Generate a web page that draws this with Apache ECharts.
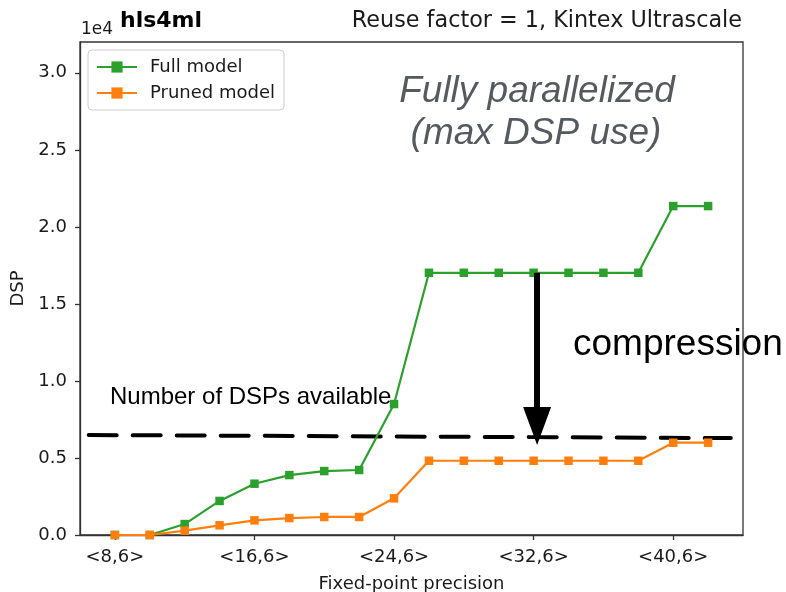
<!DOCTYPE html>
<html>
<head>
<meta charset="utf-8">
<script src="https://cdn.jsdelivr.net/npm/echarts@6/dist/echarts.min.js"></script>
<style>
  html, body { margin: 0; padding: 0; background: #fff; }
  #chart { width: 786px; height: 592px; }
</style>
</head>
<body>
<div id="chart"></div>
<script>
// ---- data ----
const precision = [8, 10, 12, 14, 16, 18, 20, 22, 24, 26, 28, 30, 32, 34, 36, 38, 40, 42];
const fullModel = [0, 0, 710, 2210, 3330, 3890, 4150, 4220, 8500, 17020, 17020, 17020, 17020, 17020, 17020, 17020, 21350, 21350];
const prunedModel = [0, 0, 280, 630, 950, 1100, 1170, 1170, 2380, 4820, 4820, 4820, 4820, 4820, 4820, 4820, 5990, 5990];
const dspAvailableX = [6.5, 43.3];
const dspAvailableY = [6490, 6290];
const arrowX = [32.2, 32.2];
const arrowY = [17020, 7070];
const xTickValues = [8, 16, 24, 32, 40];
const xTickLabels = ['<8,6>', '<16,6>', '<24,6>', '<32,6>', '<40,6>'];
const yTickValues = [0, 5000, 10000, 15000, 20000, 25000, 30000];
const yTickLabels = ['0.0', '0.5', '1.0', '1.5', '2.0', '2.5', '3.0'];
const seriesNames = ['Full model', 'Pruned model'];

const chart = echarts.init(document.getElementById('chart'), null, { renderer: 'canvas' });
const mpl = 'DejaVu Sans';

const zip = (xs, ys) => xs.map((x, i) => [x, ys[i]]);

const option = {
  animation: false,
  backgroundColor: '#ffffff',
  grid: {
    left: 80, right: 43, top: 42, bottom: 57,
    containLabel: false, outerBoundsMode: 'none',
    show: true, borderColor: '#333', borderWidth: 1.3, backgroundColor: 'transparent'
  },
  xAxis: {
    type: 'value', min: 6, max: 44,
    name: 'Fixed-point precision', nameLocation: 'middle', nameGap: 40,
    nameTextStyle: { fontFamily: mpl, fontSize: 18, color: '#1a1a1a' },
    axisLine: { show: true, lineStyle: { color: '#333', width: 1.3 } },
    axisTick: { show: true, length: 5, customValues: xTickValues, lineStyle: { color: '#333', width: 1.3 } },
    axisLabel: {
      customValues: xTickValues, margin: 13,
      fontFamily: mpl, fontSize: 18, color: '#1a1a1a',
      formatter: v => xTickLabels[xTickValues.indexOf(v)]
    },
    splitLine: { show: false }
  },
  yAxis: {
    type: 'value', min: 0, max: 32000,
    name: 'DSP', nameLocation: 'middle', nameGap: 49,
    nameTextStyle: { fontFamily: mpl, fontSize: 18, color: '#1a1a1a' },
    axisLine: { show: true, lineStyle: { color: '#333', width: 1.3 } },
    axisTick: { show: true, length: 5, customValues: yTickValues, lineStyle: { color: '#333', width: 1.3 } },
    axisLabel: {
      customValues: yTickValues, margin: 13,
      fontFamily: mpl, fontSize: 18, color: '#1a1a1a',
      formatter: v => yTickLabels[yTickValues.indexOf(v)]
    },
    splitLine: { show: false }
  },
  legend: {
    orient: 'vertical', left: 88, top: 50,
    padding: [8, 9, 8, 8], itemGap: 8,
    itemWidth: 40, itemHeight: 14,
    backgroundColor: 'rgba(255,255,255,0.85)',
    borderColor: '#cccccc', borderWidth: 1, borderRadius: 4,
    textStyle: { fontFamily: mpl, fontSize: 18, color: '#1a1a1a', padding: [0, 0, 0, 8], lineHeight: 18 },
    data: seriesNames
  },
  series: [
    {
      name: 'DSPs available', type: 'line', data: zip(dspAvailableX, dspAvailableY),
      symbol: 'none', silent: true, z: 1,
      lineStyle: { color: '#000', width: 4, type: [28, 16], cap: 'round' }
    },
    {
      name: seriesNames[0], type: 'line', data: zip(precision, fullModel),
      symbol: 'rect', symbolSize: 8.5, z: 3,
      itemStyle: { color: '#2ca02c' }, lineStyle: { color: '#2ca02c', width: 2.2 },
      markLine: {
        silent: true, symbol: ['none', 'triangle'], symbolSize: [28, 38],
        label: { show: false },
        lineStyle: { color: '#000', width: 6, type: 'solid' },
        data: [[{ coord: [arrowX[0], arrowY[0]] }, { coord: [arrowX[1], arrowY[1]] }]]
      }
    },
    {
      name: seriesNames[1], type: 'line', data: zip(precision, prunedModel),
      symbol: 'rect', symbolSize: 8.5, z: 4,
      itemStyle: { color: '#ff7f0e' }, lineStyle: { color: '#ff7f0e', width: 2.2 }
    }
  ],
  graphic: [
    { type: 'text', left: 120, top: 10, style: { text: 'hls4ml', font: 'bold 22px "DejaVu Sans"', fill: '#000' } },
    { type: 'text', left: 81, top: 21, style: { text: '1e4', font: '17px "DejaVu Sans"', fill: '#1a1a1a' } },
    { type: 'text', right: 44, top: 10, style: { text: 'Reuse factor = 1, Kintex Ultrascale', font: '22.3px "DejaVu Sans"', fill: '#1a1a1a' } },
    { type: 'text', x: 537, y: 92, style: { text: 'Fully parallelized', font: 'italic 37px "Liberation Sans"', fill: '#555a61', align: 'center', verticalAlign: 'middle' } },
    { type: 'text', x: 536, y: 134, style: { text: '(max DSP use)', font: 'italic 37px "Liberation Sans"', fill: '#555a61', align: 'center', verticalAlign: 'middle' } },
    { type: 'text', x: 110, y: 397, style: { text: 'Number of DSPs available', font: '24px "Liberation Sans"', fill: '#000', align: 'left', verticalAlign: 'middle' } },
    { type: 'text', x: 573, y: 345, style: { text: 'compression', font: '37px "Liberation Sans"', fill: '#000', align: 'left', verticalAlign: 'middle' } }
  ]
};
chart.setOption(option);
</script>
</body>
</html>
